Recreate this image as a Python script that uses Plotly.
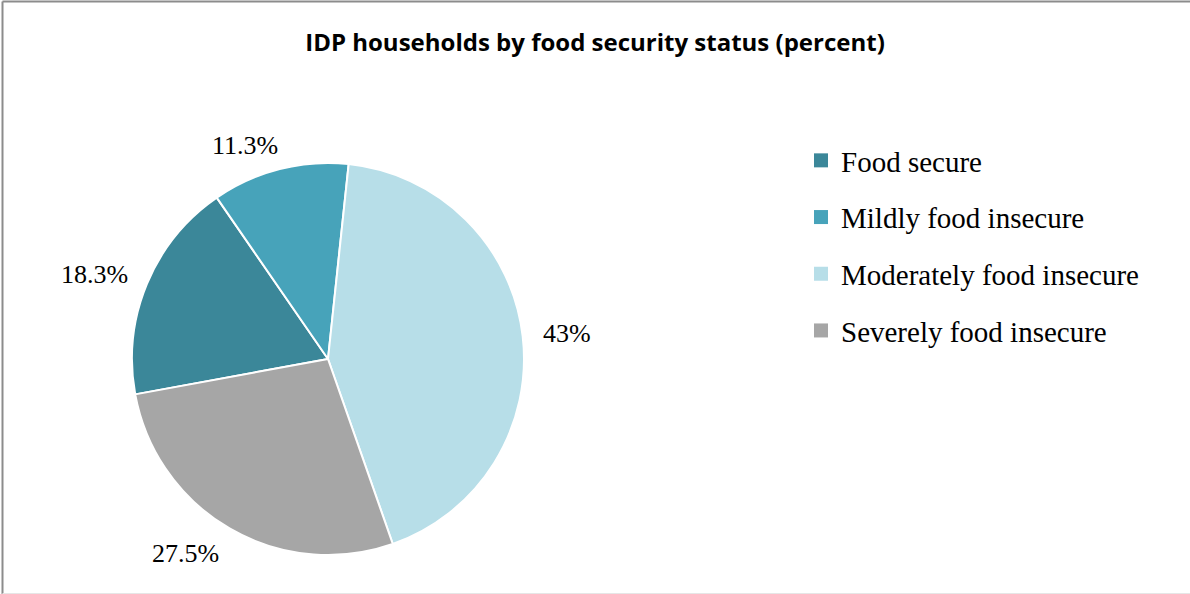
import math
import plotly.graph_objects as go

# ---- data ----
categories = ["Food secure", "Mildly food insecure", "Moderately food insecure", "Severely food insecure"]
values = [18.3, 11.3, 43.0, 27.5]
colors = ["#3B8799", "#47A3BA", "#B7DEE8", "#A6A6A6"]
title_text = "IDP households by food security status (percent)"

# ---- layout geometry (pixels) ----
W, H = 1190, 594
CX, CY, R = 328, 359, 196      # pie centre / radius in px (from top-left)
START_DEG = 259.6              # first slice starts here (clockwise from 12 o'clock)
LABEL_GAP = 18

fig = go.Figure()

fig.add_trace(go.Pie(
    labels=categories,
    values=values,
    sort=False,
    direction="clockwise",
    rotation=START_DEG - 360,
    marker=dict(colors=colors, line=dict(color="white", width=2)),
    textinfo="none",
    hoverinfo="label+value",
    showlegend=False,
    domain=dict(x=[(CX - R) / W, (CX + R) / W],
                y=[(H - CY - R) / H, (H - CY + R) / H]),
))

# legend entries (one group each so the spacing can be set)
for cat, col in zip(categories, colors):
    fig.add_trace(go.Scatter(
        x=[None], y=[None], mode="markers",
        marker=dict(symbol="square", size=14, color=col),
        name=cat, legendgroup=cat, showlegend=True, hoverinfo="skip",
    ))

# percentage labels outside the slices
total = sum(values)
cum = 0.0
annotations = []
for v in values:
    mid = math.radians(START_DEG + (cum + v / 2) / total * 360)
    cum += v
    s, c = math.sin(mid), math.cos(mid)
    px = CX + (R + LABEL_GAP) * s + (5 if c > 0.9 else 0)
    py = CY - (R + LABEL_GAP) * c - 6 * c + (4 if c < -0.7 else 0)
    xanchor = "left" if s > 0 else "right"
    annotations.append(dict(
        x=px / W, y=1 - py / H, xref="paper", yref="paper",
        text=f"{v:g}%", showarrow=False, xanchor=xanchor, yanchor="middle",
        font=dict(family="Liberation Serif, Times New Roman, serif", size=26, color="#000000"),
    ))

fig.update_layout(
    width=W, height=H,
    margin=dict(l=0, r=0, t=0, b=0),
    paper_bgcolor="white", plot_bgcolor="white",
    title=dict(text=f"<b>{title_text}</b>", x=0.5, xanchor="center",
               y=1 - 43 / H, yanchor="middle",
               font=dict(family="Open Sans, sans-serif", size=24, color="#000000")),
    xaxis=dict(visible=False), yaxis=dict(visible=False),
    legend=dict(x=801 / W, y=1 - 135 / H, xanchor="left", yanchor="top",
                font=dict(family="Liberation Serif, Times New Roman, serif", size=29, color="#000000"),
                tracegroupgap=16, bgcolor="rgba(0,0,0,0)"),
    annotations=annotations,
    shapes=[
        dict(type="line", xref="paper", yref="paper", x0=2.5 / W, x1=2.5 / W, y0=0, y1=1 - 1.5 / H,
             line=dict(color="#8C8C8C", width=2)),
        dict(type="line", xref="paper", yref="paper", x0=2.5 / W, x1=1, y0=1 - 1.5 / H, y1=1 - 1.5 / H,
             line=dict(color="#8C8C8C", width=2)),
        dict(type="line", xref="paper", yref="paper", x0=2.5 / W, x1=1, y0=0.5 / H, y1=0.5 / H,
             line=dict(color="#E6E6E6", width=1)),
    ],
)

fig.write_html("out.html", config={"displayModeBar": False},
               post_script="document.body.style.margin='0';document.body.style.overflow='hidden';")
